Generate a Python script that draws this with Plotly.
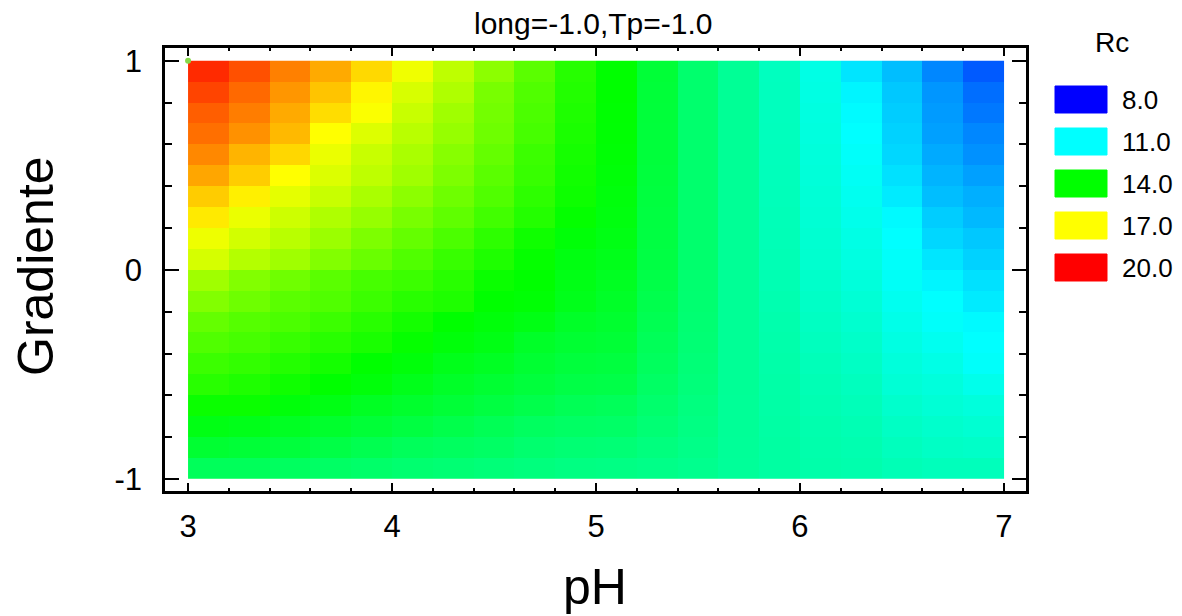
import plotly.graph_objects as go

# Grid cell centres
ph_centers = [3.1, 3.3, 3.5, 3.7, 3.9, 4.1, 4.3, 4.5, 4.7, 4.9,
              5.1, 5.3, 5.5, 5.7, 5.9, 6.1, 6.3, 6.5, 6.7, 6.9]
gradiente_centers = [0.95, 0.85, 0.75, 0.65, 0.55, 0.45, 0.35, 0.25, 0.15, 0.05,
                     -0.05, -0.15, -0.25, -0.35, -0.45, -0.55, -0.65, -0.75, -0.85, -0.95]

# Rc estimated on the grid, one row per Gradiente level (top to bottom)
rc_rows = [
    [19.50, 19.06, 18.50, 18.00, 17.45, 16.82, 16.24, 15.65, 15.06, 14.45, 14.00, 13.35, 12.72, 12.24, 11.75, 11.30, 10.70, 10.24, 9.59, 9.06],
    [19.20, 18.76, 18.24, 17.70, 17.10, 16.53, 16.06, 15.41, 14.94, 14.40, 14.00, 13.33, 12.72, 12.24, 11.76, 11.33, 10.88, 10.35, 9.76, 9.29],
    [18.90, 18.53, 18.00, 17.40, 16.95, 16.35, 15.88, 15.35, 14.88, 14.35, 13.98, 13.32, 12.72, 12.24, 11.77, 11.36, 10.95, 10.41, 9.82, 9.41],
    [18.70, 18.29, 17.82, 17.00, 16.60, 16.18, 15.76, 15.29, 14.82, 14.30, 13.96, 13.31, 12.72, 12.24, 11.78, 11.39, 11.00, 10.47, 9.88, 9.59],
    [18.40, 17.88, 17.47, 16.76, 16.35, 16.00, 15.59, 15.18, 14.70, 14.25, 13.94, 13.30, 12.72, 12.24, 11.79, 11.42, 11.06, 10.53, 10.00, 9.71],
    [18.05, 17.59, 17.00, 16.59, 16.24, 15.88, 15.47, 15.06, 14.65, 14.20, 13.90, 13.28, 12.72, 12.24, 11.80, 11.45, 11.12, 10.65, 10.12, 9.88],
    [17.60, 17.18, 16.70, 16.35, 16.00, 15.65, 15.29, 14.94, 14.53, 14.15, 13.86, 13.26, 12.72, 12.24, 11.81, 11.48, 11.18, 10.76, 10.24, 10.06],
    [17.25, 16.76, 16.41, 16.06, 15.76, 15.41, 15.12, 14.76, 14.41, 14.05, 13.82, 13.24, 12.72, 12.24, 11.83, 11.51, 11.24, 10.94, 10.41, 10.18],
    [16.80, 16.47, 16.18, 15.82, 15.47, 15.18, 14.88, 14.53, 14.18, 13.90, 13.76, 13.22, 12.72, 12.24, 11.85, 11.54, 11.30, 11.00, 10.53, 10.35],
    [16.50, 16.12, 15.88, 15.53, 15.24, 14.94, 14.65, 14.35, 14.06, 13.80, 13.70, 13.20, 12.72, 12.24, 11.87, 11.57, 11.35, 11.06, 10.71, 10.47],
    [15.88, 15.53, 15.30, 15.06, 14.82, 14.70, 14.47, 14.12, 14.00, 13.75, 13.60, 13.15, 12.70, 12.24, 11.90, 11.62, 11.42, 11.10, 10.88, 10.65],
    [15.53, 15.29, 15.06, 14.94, 14.70, 14.47, 14.35, 14.00, 13.94, 13.70, 13.53, 13.10, 12.68, 12.24, 11.93, 11.67, 11.49, 11.18, 11.00, 10.76],
    [15.18, 15.00, 14.88, 14.70, 14.47, 14.24, 14.00, 13.88, 13.76, 13.53, 13.45, 13.04, 12.66, 12.24, 11.96, 11.72, 11.56, 11.26, 11.06, 10.94],
    [14.94, 14.82, 14.65, 14.47, 14.29, 14.06, 13.88, 13.76, 13.53, 13.41, 13.36, 12.97, 12.63, 12.24, 11.99, 11.77, 11.63, 11.34, 11.18, 11.00],
    [14.70, 14.59, 14.41, 14.24, 14.00, 13.88, 13.70, 13.59, 13.41, 13.29, 13.26, 12.90, 12.60, 12.23, 12.01, 11.82, 11.70, 11.42, 11.29, 11.06],
    [14.47, 14.35, 14.18, 14.00, 13.88, 13.70, 13.53, 13.41, 13.29, 13.18, 13.15, 12.82, 12.56, 12.23, 12.03, 11.87, 11.76, 11.50, 11.41, 11.24],
    [14.12, 14.12, 13.88, 13.76, 13.59, 13.47, 13.35, 13.24, 13.12, 13.00, 12.95, 12.73, 12.51, 12.22, 12.05, 11.91, 11.82, 11.60, 11.50, 11.41],
    [13.76, 13.71, 13.59, 13.47, 13.35, 13.24, 13.12, 13.00, 12.88, 12.82, 12.80, 12.63, 12.46, 12.22, 12.07, 11.95, 11.88, 11.70, 11.60, 11.53],
    [13.41, 13.35, 13.29, 13.18, 13.06, 12.94, 12.88, 12.82, 12.71, 12.65, 12.62, 12.52, 12.40, 12.21, 12.09, 11.98, 11.93, 11.78, 11.68, 11.65],
    [12.94, 12.94, 12.88, 12.82, 12.76, 12.70, 12.65, 12.59, 12.53, 12.47, 12.45, 12.40, 12.33, 12.20, 12.10, 12.00, 11.97, 11.86, 11.80, 11.80],
]

# Contour legend levels and their colours
legend_levels = [8.0, 11.0, 14.0, 17.0, 20.0]
legend_colors = ["#0000FF", "#00FFFF", "#00FF00", "#FFFF00", "#FF0000"]

# Design point marker
point_ph = [3.0]
point_gradiente = [1.0]

title_text = "long=-1.0,Tp=-1.0"
FONT = "Liberation Sans, Arial, sans-serif"

zmin, zmax = legend_levels[0], legend_levels[-1]
colorscale = [[(lv - zmin) / (zmax - zmin), c] for lv, c in zip(legend_levels, legend_colors)]

fig = go.Figure()
fig.add_trace(go.Heatmap(
    x=ph_centers, y=gradiente_centers, z=rc_rows,
    zmin=zmin, zmax=zmax, colorscale=colorscale,
    showscale=False, hoverinfo="x+y+z",
))
fig.add_trace(go.Scatter(
    x=point_ph, y=point_gradiente, mode="markers",
    marker=dict(color="#86D84A", size=6, symbol="circle"),
    cliponaxis=False, showlegend=False, hoverinfo="skip",
))

# Plot frame in pixels
L, R, T, B = 165, 1026, 48, 491
W, H = 1182, 616


def px_x(px):
    return (px - L) / (R - L)


def px_y(py):
    return (B - py) / (B - T)


shapes = []
annotations = []

# Legend: title, colour boxes and level labels
annotations.append(dict(text="Rc", x=px_x(1112), y=px_y(43), xref="paper", yref="paper",
                        showarrow=False, xanchor="center", yanchor="middle",
                        font=dict(family=FONT, size=28, color="black")))
for i, (lv, c) in enumerate(zip(legend_levels, legend_colors)):
    top = 86 + 42 * i
    bot = top + 27
    shapes.append(dict(type="rect", xref="paper", yref="paper",
                       x0=px_x(1055), x1=px_x(1107), y0=px_y(bot), y1=px_y(top),
                       fillcolor=c, line=dict(color=c, width=1)))
    annotations.append(dict(text=f"{lv:.1f}", x=px_x(1120), y=px_y((top + bot) / 2),
                            xref="paper", yref="paper", showarrow=False,
                            xanchor="left", yanchor="middle",
                            font=dict(family=FONT, size=26, color="black")))

# Title and axis titles
annotations.append(dict(text=title_text, x=px_x(593), y=px_y(24), xref="paper", yref="paper",
                        showarrow=False, xanchor="center", yanchor="middle",
                        font=dict(family=FONT, size=30, color="black")))
annotations.append(dict(text="pH", x=px_x(595), y=px_y(587), xref="paper", yref="paper",
                        showarrow=False, xanchor="center", yanchor="middle",
                        font=dict(family=FONT, size=50, color="black")))
annotations.append(dict(text="Gradiente", x=px_x(36), y=px_y(266), xref="paper", yref="paper",
                        showarrow=False, xanchor="center", yanchor="middle", textangle=-90,
                        font=dict(family=FONT, size=50, color="black")))

fig.update_layout(
    width=W, height=H,
    margin=dict(l=L, r=W - R, t=T, b=H - B),
    paper_bgcolor="white", plot_bgcolor="white",
    showlegend=False,
    shapes=shapes, annotations=annotations,
    font=dict(family=FONT, color="black"),
)

fig.update_xaxes(
    range=[2.887, 7.108], tickvals=[3, 4, 5, 6, 7], ticktext=["3", "4", "5", "6", "7"],
    ticks="inside", ticklen=8, tickwidth=2, tickcolor="black",
    minor=dict(ticks="inside", ticklen=3, tickwidth=2, tickcolor="black", tick0=3, dtick=0.2),
    showline=True, linewidth=2.5, linecolor="black", mirror="ticks",
    showgrid=False, zeroline=False,
    tickfont=dict(family=FONT, size=31, color="black"), ticklabelstandoff=6,
)
fig.update_yaxes(
    range=[-1.057, 1.061], tickvals=[-1, 0, 1], ticktext=["-1", "0", "1"],
    ticks="inside", ticklen=14, tickwidth=2, tickcolor="black",
    minor=dict(ticks="inside", ticklen=7, tickwidth=2, tickcolor="black", tick0=-1, dtick=0.2),
    showline=True, linewidth=2.5, linecolor="black", mirror="ticks",
    showgrid=False, zeroline=False,
    tickfont=dict(family=FONT, size=31, color="black"), ticklabelstandoff=14,
)

fig.write_html("out.html")
